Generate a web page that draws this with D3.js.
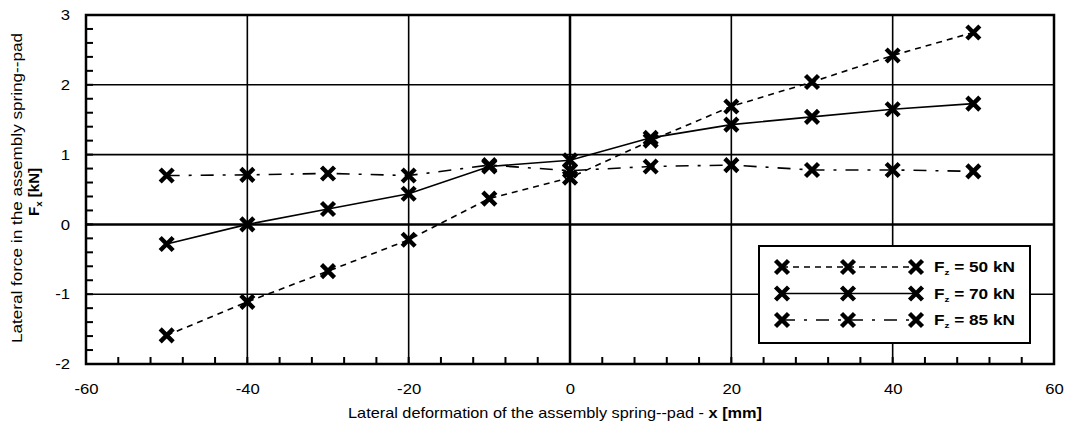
<!DOCTYPE html>
<html><head><meta charset="utf-8">
<script src="https://cdn.jsdelivr.net/npm/d3@7"></script>
<style>body{margin:0;background:#fff}svg{display:block}text{font-family:"Liberation Sans",Arial,sans-serif}</style>
</head><body>
<svg id="c" width="1074" height="426"></svg>
<script>
const xValues = [-50,-40,-30,-20,-10,0,10,20,30,40,50];
const fz50 = [-1.59,-1.11,-0.67,-0.22,0.37,0.67,1.2,1.69,2.04,2.42,2.75];
const fz70 = [-0.28,0.0,0.22,0.44,0.83,0.92,1.24,1.43,1.54,1.65,1.73];
const fz85 = [0.70,0.71,0.73,0.70,0.85,0.77,0.83,0.85,0.78,0.78,0.76];
const seriesNames = ["50 kN","70 kN","85 kN"];
const xTicks = [-60,-40,-20,0,20,40,60];
const yTicks = [-2,-1,0,1,2,3];

const svg = d3.select("#c");
const L=86,R=1054,T=15,B=364;
const x = d3.scaleLinear().domain([-60,60]).range([L,R]);
const y = d3.scaleLinear().domain([-2,3]).range([B,T]);
const g = svg.append("g");

function stretch(sel,f){
  sel.each(function(){
    const w=this.getComputedTextLength();
    d3.select(this).attr("textLength",w*f).attr("lengthAdjust","spacingAndGlyphs");
  });
}

// grid
g.selectAll(".gx").data(xTicks.filter(v=>v>-60&&v<60)).enter().append("line")
 .attr("x1",d=>x(d)).attr("x2",d=>x(d)).attr("y1",T).attr("y2",B)
 .attr("stroke","#000").attr("stroke-width",d=>d===0?2.5:1.6);
g.selectAll(".gy").data(yTicks.filter(v=>v>-2&&v<3)).enter().append("line")
 .attr("x1",L).attr("x2",R).attr("y1",d=>y(d)).attr("y2",d=>y(d))
 .attr("stroke","#000").attr("stroke-width",d=>d===0?2.5:1.6);

// minor ticks
const xMinor = d3.range(-60,61,4);
g.selectAll(".mx").data(xMinor).enter().append("line")
 .attr("x1",d=>x(d)).attr("x2",d=>x(d)).attr("y1",B).attr("y2",B-7)
 .attr("stroke","#000").attr("stroke-width",2);
const yMinor = d3.range(-2,3.001,0.2);
g.selectAll(".my").data(yMinor).enter().append("line")
 .attr("x1",L).attr("x2",L+7).attr("y1",d=>y(d)).attr("y2",d=>y(d))
 .attr("stroke","#000").attr("stroke-width",2);

// frame
g.append("rect").attr("x",L).attr("y",T).attr("width",R-L).attr("height",B-T)
 .attr("fill","none").attr("stroke","#000").attr("stroke-width",2.5);

// axes labels via d3 axes
const fmt = d=>String(d);
const xAxis = d3.axisBottom(x).tickValues(xTicks).tickFormat(fmt).tickSize(0).tickPadding(20);
const ax = svg.append("g").attr("transform",`translate(0,${B})`).call(xAxis);
ax.select(".domain").remove();
ax.selectAll("text").attr("font-size",14.5).attr("fill","#000").style("font-family","'Liberation Sans',Arial,sans-serif");
stretch(ax.selectAll("text"),1.15);
const yAxis = d3.axisLeft(y).tickValues(yTicks).tickFormat(fmt).tickSize(0).tickPadding(16);
const ay = svg.append("g").attr("transform",`translate(${L},0)`).call(yAxis);
ay.select(".domain").remove();
ay.selectAll("text").attr("font-size",14.5).attr("fill","#000").style("font-family","'Liberation Sans',Arial,sans-serif");
stretch(ay.selectAll("text"),1.15);

// series
const series = [
 {name:seriesNames[0], vals:fz50, dash:"6,5"},
 {name:seriesNames[1], vals:fz70, dash:null},
 {name:seriesNames[2], vals:fz85, dash:"13,9,3,9"}
];
const line = d3.line().x(d=>x(d[0])).y(d=>y(d[1]));
function cross(sel,cx,cy){
  const s=6.5;
  sel.append("path").attr("d",`M${cx-s},${cy-s}L${cx+s},${cy+s}M${cx-s},${cy+s}L${cx+s},${cy-s}`)
   .attr("stroke","#000").attr("stroke-width",4.4).attr("fill","none");
}
series.forEach(s=>{
  const pts = xValues.map((xv,i)=>[xv,s.vals[i]]);
  const p = g.append("path").attr("d",line(pts)).attr("fill","none").attr("stroke","#000").attr("stroke-width",1.6);
  if(s.dash) p.attr("stroke-dasharray",s.dash);
  pts.forEach(d=>cross(g,x(d[0]),y(d[1])));
});

// legend
const lg = svg.append("g");
lg.append("rect").attr("x",759).attr("y",246).attr("width",271).attr("height",97)
 .attr("fill","#fff").attr("stroke","#000").attr("stroke-width",2);
series.forEach((s,i)=>{
  const yy = 267 + i*26.5;
  const l = lg.append("line").attr("x1",782).attr("x2",916).attr("y1",yy).attr("y2",yy)
   .attr("stroke","#000").attr("stroke-width",1.6);
  if(s.dash) l.attr("stroke-dasharray",s.dash);
  [782,848,916].forEach(cx=>cross(lg,cx,yy));
  const t = lg.append("text").attr("x",934).attr("y",yy+5).attr("font-size",14).attr("font-weight","bold")
   .attr("textLength",81).attr("lengthAdjust","spacingAndGlyphs");
  t.append("tspan").text("F");
  t.append("tspan").attr("font-size",8).attr("dy",3).text("z");
  t.append("tspan").attr("dy",-3).text(" =  "+s.name);
});

// axis titles
const xt = svg.append("text").attr("x",555).attr("y",418).attr("text-anchor","middle").attr("font-size",14.5)
  .attr("textLength",414).attr("lengthAdjust","spacingAndGlyphs");
xt.append("tspan").text("Lateral deformation of the assembly spring--pad - ");
xt.append("tspan").attr("font-weight","bold").text("x [mm]");

const yt = svg.append("g").attr("transform","translate(22,188) rotate(-90)");
yt.append("text").attr("text-anchor","middle").attr("font-size",14.5)
  .attr("textLength",310).attr("lengthAdjust","spacingAndGlyphs")
  .text("Lateral force in the assembly spring--pad");
const yt2 = yt.append("text").attr("text-anchor","middle").attr("x",-4).attr("y",17).attr("font-size",14).attr("font-weight","bold")
  .attr("textLength",48).attr("lengthAdjust","spacingAndGlyphs");
yt2.append("tspan").text("F");
yt2.append("tspan").attr("font-size",9).attr("dy",3).text("x");
yt2.append("tspan").attr("dy",-3).text(" [kN]");
</script>
</body></html>
